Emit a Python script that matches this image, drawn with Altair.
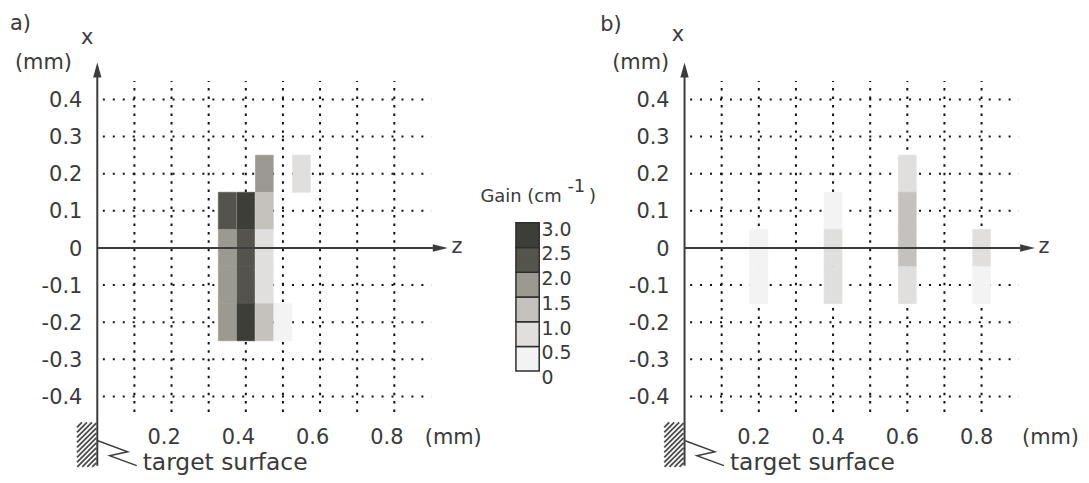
import altair as alt
import pandas as pd

# ---------------- data ----------------
# panel a) : cell centres (z, x in mm) and gain (cm^-1)
a_z = [0.35, 0.35, 0.35, 0.35, 0.40, 0.40, 0.40, 0.40, 0.45, 0.45, 0.45, 0.45, 0.45, 0.50, 0.55]
a_x = [0.1, 0.0, -0.1, -0.2, 0.1, 0.0, -0.1, -0.2, 0.2, 0.1, 0.0, -0.1, -0.2, -0.2, 0.2]
a_gain = [2.25, 1.75, 1.75, 1.75, 2.75, 2.25, 2.25, 2.75, 1.75, 1.25, 0.75, 0.75, 1.25, 0.25, 0.75]

# panel b)
b_z = [0.2, 0.2, 0.4, 0.4, 0.4, 0.6, 0.6, 0.6, 0.6, 0.8, 0.8]
b_x = [0.0, -0.1, 0.1, 0.0, -0.1, 0.2, 0.1, 0.0, -0.1, 0.0, -0.1]
b_gain = [0.25, 0.25, 0.25, 0.75, 0.75, 0.75, 1.25, 1.25, 0.75, 0.75, 0.25]

z_tick_values = [0.2, 0.4, 0.6, 0.8]
z_tick_labels = ["0.2", "0.4", "0.6", "0.8"]
x_tick_values = [0.4, 0.3, 0.2, 0.1, 0.0, -0.1, -0.2, -0.3, -0.4]
x_tick_labels = ["0.4", "0.3", "0.2", "0.1", "0", "-0.1", "-0.2", "-0.3", "-0.4"]
grid_z = [0.1, 0.2, 0.3, 0.4, 0.5, 0.6, 0.7, 0.8]
grid_x = [0.4, 0.3, 0.2, 0.1, -0.1, -0.2, -0.3, -0.4]

gain_edges = [0.0, 0.5, 1.0, 1.5, 2.0, 2.5, 3.0]
gain_edge_labels = ["0", "0.5", "1.0", "1.5", "2.0", "2.5", "3.0"]
gain_colors = ["#f3f3f3", "#e0dfdd", "#c5c1bc", "#9c9991", "#55544c", "#3e3e38"]

# ---------------- layout / style ----------------
PX = 373.0          # pixels per mm
H = 467
WA, WB = 592, 486
TOP = 8.0
ORIGIN_Y = 248.0
FONT = "DejaVu Sans"
TXT = "#3a3a3a"
AXC = "#3c3c3c"
GRIDC = "#111111"

CELL_HALF_Z = 0.024
CELL_HALF_X = 0.05
GRID_X_SPAN = (-0.442, 0.45)
GRID_Z_SPAN = (0.015, 0.9)
AXIS_X_SPAN = (-0.5863, 0.4995)
AXIS_Z_END = 0.944
ARROW_MM = 15.0 / PX
XDOM = [(ORIGIN_Y - (TOP + H)) / PX, (ORIGIN_Y - TOP) / PX]

gain_scale = alt.Scale(type="threshold", domain=gain_edges[1:-1], range=gain_colors)


def mm(xr, yr):
    return xr / PX, -yr / PX


# hatched target block and zig-zag leader (pixels relative to origin)
HATCH = (-20.4, -1.0, 175.3, 220.0)
hz0, hz1, hx0, hx1 = [], [], [], []
c = HATCH[0] + HATCH[2]
while c <= HATCH[1] + HATCH[3]:
    xa = max(HATCH[0], c - HATCH[3])
    xb = min(HATCH[1], c - HATCH[2])
    if xb > xa + 0.5:
        p0 = mm(xa, c - xa)
        p1 = mm(xb, c - xb)
        hz0.append(p0[0]); hx0.append(p0[1]); hz1.append(p1[0]); hx1.append(p1[1])
    c += 5.0
hatch_df = pd.DataFrame({"z0": hz0, "x0": hx0, "z1": hz1, "x1": hx1})
zig_px = [(0.6, 193.7), (30.6, 204.7), (12.3, 208.7), (39.6, 218.7)]
zig_df = pd.DataFrame({"z": [mm(*p)[0] for p in zig_px], "x": [mm(*p)[1] for p in zig_px],
                       "o": list(range(len(zig_px)))})

panels = {
    "a": dict(left=8.0, width=WA, origin=97.7, tag="a)", tag_pos=(10, 29.5),
              xlab=(87.5, 42.7), ymm=(15, 68.3), zmm=(426.7, 445), zlab=(459, 253.3),
              ts=(143.3, 471.5), tdx=-7.5),
    "b": dict(left=8.0 + WA, width=WB, origin=687.7, tag="b)", tag_pos=(603, 30),
              xlab=(681, 40), ymm=(615, 68.3), zmm=(1026.7, 445), zlab=(1048.7, 253.3),
              ts=(733.3, 471.5), tdx=-5.0),
}


def build(cells_df, cfg, legend):
    o = cfg["origin"]
    zs = alt.Scale(domain=[(cfg["left"] - o) / PX, (cfg["left"] + cfg["width"] - o) / PX],
                   nice=False, zero=False)
    xs = alt.Scale(domain=XDOM, nice=False, zero=False)

    def X(f):
        return alt.X(f"{f}:Q", scale=zs, axis=None)

    def Y(f):
        return alt.Y(f"{f}:Q", scale=xs, axis=None)

    def pz(px):
        return (px - o) / PX

    def px_(py):
        return (ORIGIN_Y - py) / PX

    layers = []
    # dotted grid (behind the cells)
    vg = pd.DataFrame({"z": grid_z, "lo": GRID_X_SPAN[0], "hi": GRID_X_SPAN[1]})
    layers.append(alt.Chart(vg).mark_rule(color=GRIDC, strokeWidth=2, strokeDash=[2.5, 6]).encode(
        x=X("z"), y=Y("lo"), y2=alt.Y2("hi")))
    hg = pd.DataFrame({"x": grid_x, "lo": GRID_Z_SPAN[0], "hi": GRID_Z_SPAN[1]})
    layers.append(alt.Chart(hg).mark_rule(color=GRIDC, strokeWidth=2, strokeDash=[2, 8]).encode(
        y=Y("x"), x=X("lo"), x2=alt.X2("hi")))
    # cells
    layers.append(
        alt.Chart(cells_df).transform_calculate(
            z0=f"datum.z - {CELL_HALF_Z}", z1=f"datum.z + {CELL_HALF_Z}",
            x0=f"datum.x - {CELL_HALF_X}", x1=f"datum.x + {CELL_HALF_X}",
        ).mark_rect(strokeWidth=0.6).encode(
            x=X("z0"), x2=alt.X2("z1"), y=Y("x0"), y2=alt.Y2("x1"),
            fill=alt.Fill("gain:Q", scale=gain_scale, legend=None),
            stroke=alt.Stroke("gain:Q", scale=gain_scale, legend=None),
        )
    )
    # hatched target surface
    layers.append(alt.Chart(hatch_df).mark_rule(color="#4a4a4a", strokeWidth=1.8).encode(
        x=X("z0"), x2=alt.X2("z1"), y=Y("x0"), y2=alt.Y2("x1")))
    layers.append(alt.Chart(zig_df).mark_line(color=AXC, strokeWidth=1.4).encode(
        x=X("z"), y=Y("x"), order="o:Q"))
    # axes
    ax = pd.DataFrame({"z0": [0.0, 0.0], "z1": [0.0, AXIS_Z_END - ARROW_MM * 0.5],
                       "x0": [AXIS_X_SPAN[0], 0.0], "x1": [AXIS_X_SPAN[1] - ARROW_MM * 0.5, 0.0]})
    layers.append(alt.Chart(ax).mark_rule(color=AXC, strokeWidth=2).encode(
        x=X("z0"), x2=alt.X2("z1"), y=Y("x0"), y2=alt.Y2("x1")))
    layers.append(alt.Chart(pd.DataFrame({"z": [0.0], "x": [AXIS_X_SPAN[1] - ARROW_MM / 2]})).mark_point(
        shape="M0,-1L0.56,1L-0.56,1Z", filled=True, opacity=1, size=ARROW_MM ** 2 * PX ** 2,
        color=AXC, strokeWidth=0).encode(x=X("z"), y=Y("x")))
    layers.append(alt.Chart(pd.DataFrame({"z": [AXIS_Z_END - ARROW_MM / 2], "x": [0.0]})).mark_point(
        shape="M1,0L-1,0.5L-1,-0.5Z", filled=True, opacity=1, size=ARROW_MM ** 2 * PX ** 2,
        color=AXC, strokeWidth=0).encode(x=X("z"), y=Y("x")))
    # tick labels
    yt = pd.DataFrame({"x": x_tick_values, "t": x_tick_labels, "z": 0.0})
    layers.append(alt.Chart(yt).mark_text(font=FONT, fontSize=21, color=TXT, align="right",
                                          baseline="alphabetic", dx=-15, dy=7.6).encode(
        x=X("z"), y=Y("x"), text="t:N"))
    zt = pd.DataFrame({"z": z_tick_values, "t": z_tick_labels, "x": px_(cfg["zmm"][1])})
    layers.append(alt.Chart(zt).mark_text(font=FONT, fontSize=21, color=TXT, align="center",
                                          baseline="alphabetic", dx=cfg["tdx"]).encode(
        x=X("z"), y=Y("x"), text="t:N"))
    # left-aligned captions
    lt = pd.DataFrame({
        "z": [pz(cfg["tag_pos"][0]), pz(cfg["ymm"][0]), pz(cfg["zmm"][0])],
        "x": [px_(cfg["tag_pos"][1]), px_(cfg["ymm"][1]), px_(cfg["zmm"][1])],
        "t": [cfg["tag"], "(mm)", "(mm)"]})
    layers.append(alt.Chart(lt).mark_text(font=FONT, fontSize=21, color=TXT, align="left",
                                          baseline="alphabetic").encode(
        x=X("z"), y=Y("x"), text="t:N"))
    ct = pd.DataFrame({"z": [pz(cfg["xlab"][0]), pz(cfg["zlab"][0])],
                       "x": [px_(cfg["xlab"][1]), px_(cfg["zlab"][1])], "t": ["x", "z"]})
    layers.append(alt.Chart(ct).mark_text(font=FONT, fontSize=21, color=TXT, align="center",
                                          baseline="alphabetic").encode(
        x=X("z"), y=Y("x"), text="t:N"))
    tsd = pd.DataFrame({"z": [pz(cfg["ts"][0])], "x": [px_(cfg["ts"][1])], "t": ["target surface"]})
    layers.append(alt.Chart(tsd).mark_text(font=FONT, fontSize=23.5, color=TXT, align="left",
                                           baseline="alphabetic").encode(
        x=X("z"), y=Y("x"), text="t:N"))

    if not legend:
        return alt.layer(*layers).properties(width=cfg["width"], height=H)

    # ----- colour legend (own vertical scale) -----
    ppu = (371.7 - 222.7) / 3.0
    ls = alt.Scale(domain=[-(TOP + H - 371.7) / ppu, (371.7 - TOP) / ppu], nice=False, zero=False)
    lb = pd.DataFrame({"lo": gain_edges[:-1], "hi": gain_edges[1:]})
    layers.append(alt.Chart(lb).transform_calculate(mid="(datum.lo + datum.hi) / 2").mark_rect(
        stroke="#2e2e2e", strokeWidth=1.5).encode(
        x=alt.value(518.3 - 8), x2=alt.value(541.7 - 8),
        y=alt.Y("lo:Q", scale=ls, axis=None), y2=alt.Y2("hi"),
        fill=alt.Fill("mid:Q", scale=gain_scale, legend=None)))
    ll = pd.DataFrame({"v": gain_edges, "t": gain_edge_labels})
    layers.append(alt.Chart(ll).mark_text(font=FONT, fontSize=19, color=TXT, align="left",
                                          baseline="alphabetic", dy=13).encode(
        x=alt.value(544 - 8), y=alt.Y("v:Q", scale=ls, axis=None), text="t:N"))
    layers.append(alt.Chart(pd.DataFrame({"t": ["Gain (cm"]})).mark_text(
        font=FONT, fontSize=18, color=TXT, align="left", baseline="alphabetic").encode(
        x=alt.value(482.7 - 8), y=alt.value(201.7 - 8), text="t:N"))
    layers.append(alt.Chart(pd.DataFrame({"t": ["-1"]})).mark_text(
        font=FONT, fontSize=18, color=TXT, align="left", baseline="alphabetic").encode(
        x=alt.value(570 - 8), y=alt.value(191.7 - 8), text="t:N"))
    layers.append(alt.Chart(pd.DataFrame({"t": [")"]})).mark_text(
        font=FONT, fontSize=18, color=TXT, align="left", baseline="alphabetic").encode(
        x=alt.value(591.7 - 8), y=alt.value(201.7 - 8), text="t:N"))
    return alt.layer(*layers).resolve_scale(y="independent").properties(width=cfg["width"], height=H)


df_a = pd.DataFrame({"z": a_z, "x": a_x, "gain": a_gain})
df_b = pd.DataFrame({"z": b_z, "x": b_x, "gain": b_gain})

chart = alt.hconcat(
    build(df_a, panels["a"], True),
    build(df_b, panels["b"], False),
    spacing=0, bounds="flush",
).properties(padding=0, background="#ffffff").configure_view(stroke=None)

chart.save("out.html", embed_options={"renderer": "svg", "actions": False})
